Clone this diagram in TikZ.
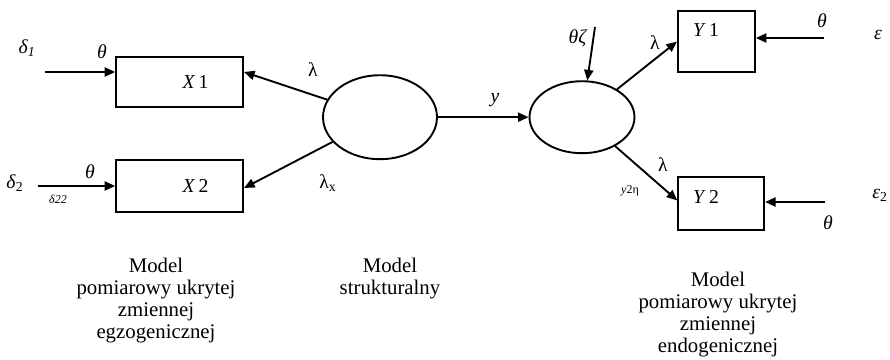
\documentclass[tikz,border=0pt]{standalone}
\usepackage{fontspec}
\setmainfont{Liberation Serif}
\usepackage{tikz}
\usetikzlibrary{arrows.meta,calc,positioning,shapes.geometric}

\begin{document}
\begin{tikzpicture}[line width=1.35pt, every node/.style={font=\fontsize{14}{15}\selectfont},
  kutu/.style={draw,rectangle,line width=1.35pt,inner sep=0pt},
  elips/.style={draw,ellipse,line width=1.35pt,inner sep=0pt},
  ok/.style={-{Triangle[length=7.5pt,width=6.5pt]},line width=1.35pt},
  kucuk/.style={font=\fontsize{8.5}{9}\selectfont},
  aciklama/.style={align=center,anchor=north,font=\fontsize{14.8}{15.8}\selectfont}]
\useasboundingbox (0,0) rectangle (22.25,-8.975);
% olcum modeli (egzogeniczny)
\node[kutu,minimum width=3.175cm,minimum height=1.27cm] (X1) at (4.49,-2.05) {\hspace*{0.8cm}\textit{X}\,1};
\node[kutu,minimum width=3.175cm,minimum height=1.3cm] (X2) at (4.49,-4.65) {\hspace*{0.8cm}\textit{X}\,2};
% ukryte zmienne
\node[elips,minimum width=2.85cm,minimum height=2.1cm] (E1) at (9.5,-2.93) {};
\node[elips,minimum width=2.625cm,minimum height=1.8cm] (E2) at (14.55,-2.93) {};
% olcum modeli (endogeniczny)
\node[kutu,minimum width=1.925cm,minimum height=1.525cm] (Y1) at (17.91,-1.04) {};
\node[kutu,minimum width=2.15cm,minimum height=1.325cm] (Y2) at (18.03,-5.09) {};
\node (Y1t) at (17.65,-0.75) {\textit{Y}\,1};
\node (Y2t) at (17.65,-4.93) {\textit{Y}\,2};
% bledy
\coordinate (d1) at (1.125,-1.8);
\coordinate (d2) at (0.95,-4.65);
\coordinate (z1) at (14.875,-0.675);
\coordinate (e1) at (20.6,-0.95);
\coordinate (e2) at (20.625,-5.05);
\node (delta1) at (0.675,-1.2) {\textit{δ\textsubscript{1}}};
\node (th1) at (2.55,-1.3) {\textit{θ}};
\node (delta2) at (0.375,-4.575) {\textit{δ}\textsubscript{2}};
\node (th2) at (2.25,-4.3) {\textit{θ}};
\node[kucuk] (d22) at (1.45,-4.975) {\textit{δ22}};
\node (lam1) at (7.825,-1.75) {λ};
\node (lamx) at (8.2,-4.575) {λ\textsubscript{x}};
\node (ylab) at (12.375,-2.5) {\textit{y}};
\node (thz) at (14.45,-0.95) {\textit{θζ}};
\node (lam2) at (16.375,-1.075) {λ};
\node (lam3) at (16.575,-4.125) {λ};
\node[kucuk] (y2eta) at (15.75,-4.775) {\textit{y}2η};
\node (th3) at (20.55,-0.525) {\textit{θ}};
\node (eps1) at (21.95,-0.875) {\textit{ε}};
\node (th4) at (20.7,-5.575) {\textit{θ}};
\node (eps2) at (22.0,-4.875) {\textit{ε}\textsubscript{2}};
% oklar
\draw[ok] (d1) -- (d1 -| X1.west);
\draw[ok] (d2) -- (X2.west);
\draw[ok] (E1) -- ($(X1.east)+(0,0.25)$);
\draw[ok] (E1) -- ($(X2.east)+(0,-0.05)$);
\draw[ok] (E1) -- (E2);
\draw[ok] (z1) -- (E2);
\draw[ok] (E2) -- (Y1.west);
\draw[ok] (E2) -- ($(Y2.west)+(0,0.08)$);
\draw[ok] (e1) -- (e1 -| Y1.east);
\draw[ok] (e2) -- (e2 -| Y2.east);
% aciklamalar
\node[aciklama] (m1) at (3.9,-6.3) {Model\\pomiarowy ukrytej\\zmiennej\\egzogenicznej};
\node[aciklama] (m2) at (9.75,-6.3) {Model\\strukturalny};
\node[aciklama] (m3) at (17.95,-6.65) {Model\\pomiarowy ukrytej\\zmiennej\\endogenicznej};
\end{tikzpicture}
\end{document}
